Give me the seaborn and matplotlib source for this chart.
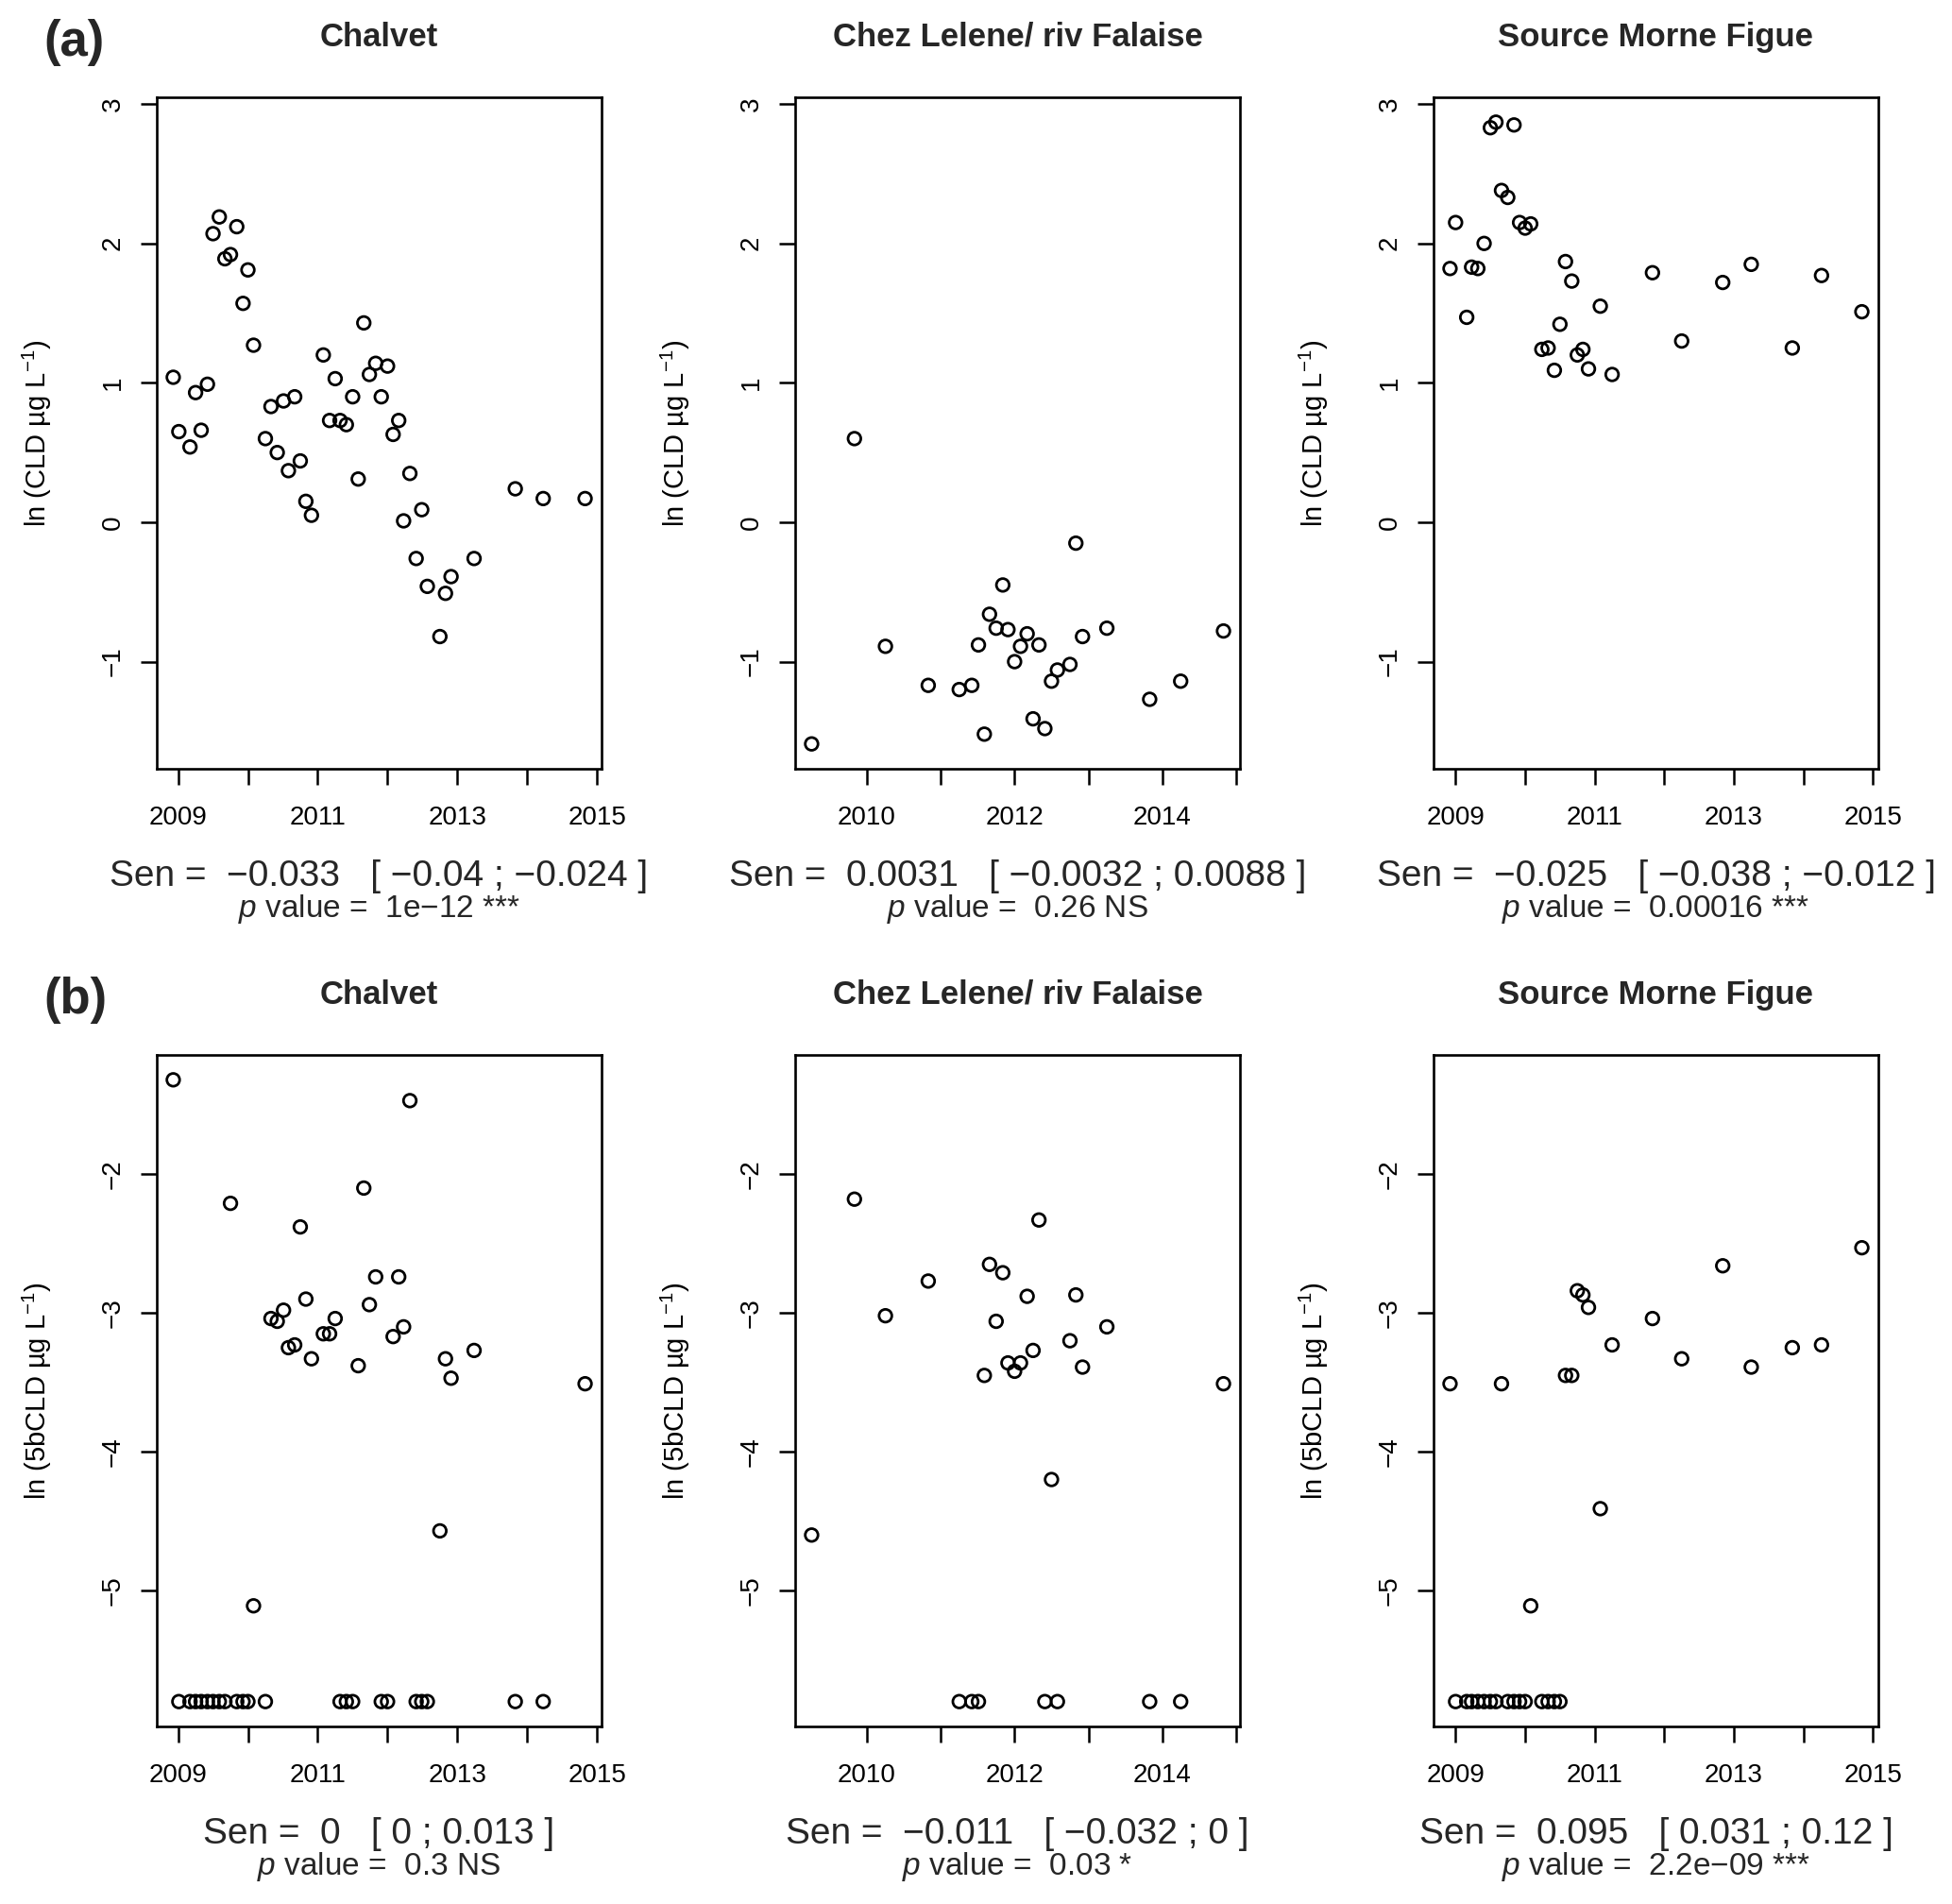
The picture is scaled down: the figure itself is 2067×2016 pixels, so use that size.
import numpy as np
import pandas as pd
import matplotlib
matplotlib.use("Agg")
import matplotlib.pyplot as plt
import seaborn as sns

sns.set_theme(style="ticks")
plt.rcParams['font.family'] = ['Liberation Sans', 'DejaVu Sans']
plt.rcParams['mathtext.fontset'] = 'custom'
plt.rcParams['mathtext.rm'] = 'Liberation Sans'
plt.rcParams['mathtext.it'] = 'Liberation Sans:italic'
plt.rcParams['axes.unicode_minus'] = True

# ---- data (decimal year, ln concentrations) ----
chalvet_year = [2008.93, 2009.01, 2009.17, 2009.25, 2009.33, 2009.42, 2009.50, 2009.59, 2009.67,
                2009.75, 2009.84, 2009.93, 2010.00, 2010.08, 2010.25, 2010.33, 2010.42, 2010.51,
                2010.58, 2010.67, 2010.75, 2010.83, 2010.91, 2011.08, 2011.17, 2011.25, 2011.32,
                2011.41, 2011.50, 2011.58, 2011.66, 2011.74, 2011.83, 2011.91, 2012.00, 2012.08,
                2012.16, 2012.23, 2012.32, 2012.41, 2012.49, 2012.57, 2012.75, 2012.83, 2012.91,
                2013.24, 2013.83, 2014.23, 2014.83]
chalvet_cld = [1.04, 0.65, 0.54, 0.93, 0.66, 0.99, 2.07, 2.19, 1.89,
               1.92, 2.12, 1.57, 1.81, 1.27, 0.60, 0.83, 0.50, 0.87,
               0.37, 0.90, 0.44, 0.15, 0.05, 1.20, 0.73, 1.03, 0.73,
               0.70, 0.90, 0.31, 1.43, 1.06, 1.14, 0.90, 1.12, 0.63,
               0.73, 0.01, 0.35, -0.26, 0.09, -0.46, -0.82, -0.51, -0.39,
               -0.26, 0.24, 0.17, 0.17]
chalvet_5b = [-1.32, -5.80, -5.80, -5.80, -5.80, -5.80, -5.80, -5.80, -5.80,
              -2.21, -5.80, -5.80, -5.80, -5.11, -5.80, -3.04, -3.06, -2.98,
              -3.25, -3.23, -2.38, -2.90, -3.33, -3.15, -3.15, -3.04, -5.80,
              -5.80, -5.80, -3.38, -2.10, -2.94, -2.74, -5.80, -5.80, -3.17,
              -2.74, -3.10, -1.47, -5.80, -5.80, -5.80, -4.57, -3.33, -3.47,
              -3.27, -5.80, -5.80, -3.51]

lelene_year = [2009.25, 2009.83, 2010.25, 2010.83, 2011.25, 2011.42, 2011.51, 2011.59, 2011.66,
               2011.75, 2011.84, 2011.91, 2012.00, 2012.08, 2012.17, 2012.25, 2012.33, 2012.41,
               2012.50, 2012.58, 2012.75, 2012.83, 2012.92, 2013.25, 2013.83, 2014.25, 2014.83]
lelene_cld = [-1.59, 0.60, -0.89, -1.17, -1.20, -1.17, -0.88, -1.52, -0.66,
              -0.76, -0.45, -0.77, -1.00, -0.89, -0.80, -1.41, -0.88, -1.48,
              -1.14, -1.06, -1.02, -0.15, -0.82, -0.76, -1.27, -1.14, -0.78]
lelene_5b = [-4.60, -2.18, -3.02, -2.77, -5.80, -5.80, -5.80, -3.45, -2.65,
             -3.06, -2.71, -3.36, -3.42, -3.36, -2.88, -3.27, -2.33, -5.80,
             -4.20, -5.80, -3.20, -2.87, -3.39, -3.10, -5.80, -5.80, -3.51]

morne_year = [2008.92, 2009.00, 2009.16, 2009.23, 2009.32, 2009.41, 2009.50, 2009.58,
              2009.66, 2009.75, 2009.84, 2009.92, 2010.00, 2010.08, 2010.24, 2010.33,
              2010.42, 2010.50, 2010.58, 2010.67, 2010.75, 2010.83, 2010.91, 2011.08,
              2011.25, 2011.83, 2012.25, 2012.84, 2013.25, 2013.84, 2014.26, 2014.84]
morne_cld = [1.82, 2.15, 1.47, 1.83, 1.82, 2.00, 2.83, 2.87,
             2.38, 2.33, 2.85, 2.15, 2.11, 2.14, 1.24, 1.25,
             1.09, 1.42, 1.87, 1.73, 1.20, 1.24, 1.10, 1.55,
             1.06, 1.79, 1.30, 1.72, 1.85, 1.25, 1.77, 1.51]
morne_5b = [-3.51, -5.80, -5.80, -5.80, -5.80, -5.80, -5.80, -5.80,
            -3.51, -5.80, -5.80, -5.80, -5.80, -5.11, -5.80, -5.80,
            -5.80, -5.80, -3.45, -3.45, -2.84, -2.87, -2.96, -4.41,
            -3.23, -3.04, -3.33, -2.66, -3.39, -3.25, -3.23, -2.53]

sites = ["Chalvet", "Chez Lelene/ riv Falaise", "Source Morne Figue"]
site_data = [
    pd.DataFrame({"year": chalvet_year, "cld": chalvet_cld, "cld5b": chalvet_5b}),
    pd.DataFrame({"year": lelene_year, "cld": lelene_cld, "cld5b": lelene_5b}),
    pd.DataFrame({"year": morne_year, "cld": morne_cld, "cld5b": morne_5b}),
]

sen_cld = ["Sen =  \u22120.033   [ \u22120.04 ; \u22120.024 ]",
           "Sen =  0.0031   [ \u22120.0032 ; 0.0088 ]",
           "Sen =  \u22120.025   [ \u22120.038 ; \u22120.012 ]"]
pval_cld = ["1e\u221212 ***", "0.26 NS", "0.00016 ***"]
sen_5b = ["Sen =  0   [ 0 ; 0.013 ]",
          "Sen =  \u22120.011   [ \u22120.032 ; 0 ]",
          "Sen =  0.095   [ 0.031 ; 0.12 ]"]
pval_5b = ["0.3 NS", "0.03 *", "2.2e\u221209 ***"]

rows = [
    dict(col="cld", label="ln (CLD µg L$^{\u22121}$)", yticks=[-1, 0, 1, 2, 3],
         sen=sen_cld, pval=pval_cld, tag="(a)", top=103),
    dict(col="cld5b", label="ln (5bCLD µg L$^{\u22121}$)", yticks=[-5, -4, -3, -2],
         sen=sen_5b, pval=pval_5b, tag="(b)", top=1117),
]


def rlim(vals):
    # R style 4% axis extension
    lo, hi = min(vals), max(vals)
    pad = (hi - lo) * 0.04
    return lo - pad, hi + pad


W, H = 2067, 2016
fig = plt.figure(figsize=(W / 100, H / 100), dpi=100)
lefts = [166, 842, 1518]
aw, ah = 471, 711

for r, row in enumerate(rows):
    ylim = rlim([v for d in site_data for v in d[row["col"]]])
    for c, (name, df) in enumerate(zip(sites, site_data)):
        ax = fig.add_axes([lefts[c] / W, 1 - (row["top"] + ah) / H, aw / W, ah / H])
        sns.scatterplot(data=df, x="year", y=row["col"], ax=ax, s=95,
                        facecolors="none", edgecolor="black", linewidth=2.0, legend=False)
        ax.set_xlim(*rlim(df["year"]))
        ax.set_ylim(*ylim)
        years = [y for y in range(2008, 2016) if ax.get_xlim()[0] <= y <= ax.get_xlim()[1]]
        first = years[0]
        ax.set_xticks(years)
        ax.set_xticklabels([str(y) if (y - first) % 2 == 0 else "" for y in years])
        ax.set_yticks(row["yticks"])
        ax.set_yticklabels([str(v).replace("-", "\u2212") for v in row["yticks"]])
        ax.tick_params(axis="both", direction="out", length=12, width=1.8,
                       labelsize=20, color="black", labelcolor="black")
        ax.tick_params(axis="x", pad=16)
        ax.tick_params(axis="y", pad=12, labelrotation=90)
        for lab in ax.get_yticklabels():
            lab.set_va("center")
        for sp in ax.spines.values():
            sp.set_linewidth(1.9)
            sp.set_color("black")
        ax.set_xlabel("")
        ax.set_ylabel(row["label"], fontsize=21, color="black")
        ax.yaxis.set_label_coords(-0.231, 0.5)
        ax.set_title(name, fontsize=25, fontweight="bold", pad=39)
        ax.text(0.5, -114 / ah, row["sen"][c], transform=ax.transAxes,
                ha="center", va="center", fontsize=28)
        ax.text(0.5, -148 / ah, "$\\mathit{p}$ value =  " + row["pval"][c],
                transform=ax.transAxes, ha="center", va="center", fontsize=24)
    fig.text(46 / W, 1 - (row["top"] - 58) / H, row["tag"], ha="left", va="center",
             fontsize=38, fontweight="bold")

fig.savefig("out.png", dpi=100, facecolor="white")
